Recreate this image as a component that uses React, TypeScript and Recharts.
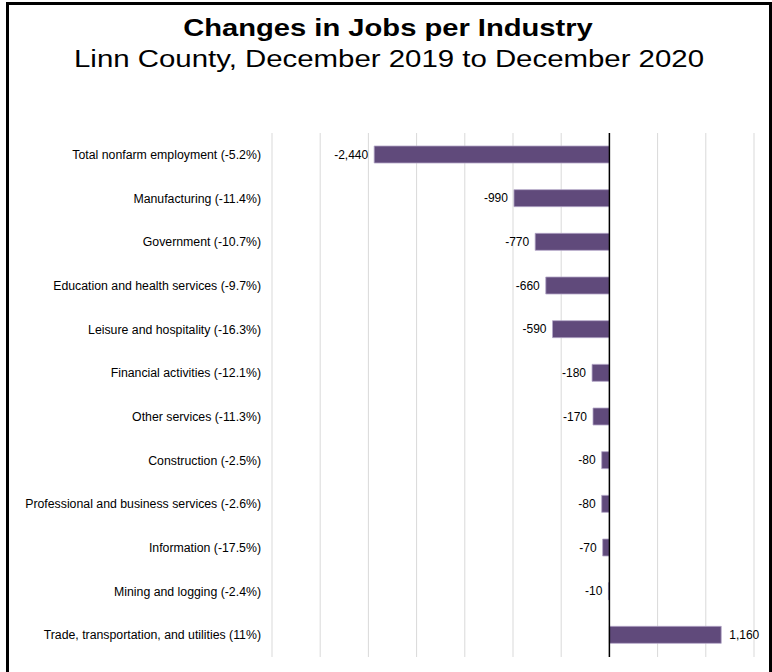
import { Bar, BarChart, CartesianGrid, LabelList, ReferenceLine, XAxis, YAxis } from "recharts";

const industries = [
  "Total nonfarm employment (-5.2%)",
  "Manufacturing (-11.4%)",
  "Government (-10.7%)",
  "Education and health services (-9.7%)",
  "Leisure and hospitality (-16.3%)",
  "Financial activities (-12.1%)",
  "Other services (-11.3%)",
  "Construction (-2.5%)",
  "Professional and business services (-2.6%)",
  "Information (-17.5%)",
  "Mining and logging (-2.4%)",
  "Trade, transportation, and utilities (11%)",
];

const jobChanges = [-2440, -990, -770, -660, -590, -180, -170, -80, -80, -70, -10, 1160];

const xTicks = [-3500, -3000, -2500, -2000, -1500, -1000, -500, 0, 500, 1000, 1500];

const chartData = industries.map((name, i) => ({ name, change: jobChanges[i] }));

const FONT = "'Liberation Sans', Arial, sans-serif";

function ValueLabel(props: any) {
  const { x, y, width, height, value } = props;
  const left = Math.min(x, x + width);
  const right = Math.max(x, x + width);
  const negative = value < 0;
  return (
    <text
      x={negative ? left - 6 : right + 8}
      y={y + height / 2}
      dy="0.35em"
      textAnchor={negative ? "end" : "start"}
      fontSize={12}
      fontFamily={FONT}
      fill="#000"
    >
      {Number(value).toLocaleString("en-US")}
    </text>
  );
}

function CategoryTick(props: any) {
  const { x, y, payload } = props;
  return (
    <text x={x - 3} y={y} dy="0.35em" textAnchor="end" fontSize={12.3} fontFamily={FONT} fill="#000">
      {payload.value}
    </text>
  );
}

function NoTick() {
  return <g />;
}

export default function App() {
  return (
    <div style={{ position: "fixed", left: 0, top: 0, width: 772, height: 672, background: "#fff", overflow: "hidden" }}>
      <div
        style={{
          position: "absolute",
          left: 6,
          top: 2,
          width: 760,
          height: 700,
          border: "3px solid #000",
        }}
      />
      <svg width={772} height={90} style={{ position: "absolute", left: 0, top: 0 }}>
        <g transform="translate(388 0) scale(1.19 1)">
          <text x={0} y={36} textAnchor="middle" fontSize={24.5} fontWeight="bold" fontFamily={FONT} fill="#000">
            Changes in Jobs per Industry
          </text>
        </g>
        <g transform="translate(389 0) scale(1.2 1)">
          <text x={0} y={67} textAnchor="middle" fontSize={24.5} fontFamily={FONT} fill="#000">
            Linn County, December 2019 to December 2020
          </text>
        </g>
      </svg>
      <div style={{ position: "absolute", left: 0, top: 0 }}>
        <BarChart
          width={772}
          height={672}
          data={chartData}
          layout="vertical"
          margin={{ top: 133, right: 18, bottom: 14, left: 8 }}
        >
          <CartesianGrid horizontal={false} stroke="#d9d9d9" strokeWidth={1} />
          <XAxis
            type="number"
            domain={[-3500, 1500]}
            ticks={xTicks}
            interval={0}
            tick={<NoTick />}
            tickLine={false}
            axisLine={false}
            height={1}
          />
          <YAxis
            type="category"
            dataKey="name"
            width={264}
            tickLine={false}
            axisLine={false}
            interval={0}
            tick={<CategoryTick />}
          />
          <Bar
            dataKey="change"
            fill="#604a7b"
            stroke="#b3a6c6"
            strokeWidth={0.8}
            barSize={17}
            isAnimationActive={false}
          >
            <LabelList dataKey="change" content={<ValueLabel />} />
          </Bar>
          <ReferenceLine x={0} stroke="#000" strokeWidth={1.5} />
        </BarChart>
      </div>
    </div>
  );
}
